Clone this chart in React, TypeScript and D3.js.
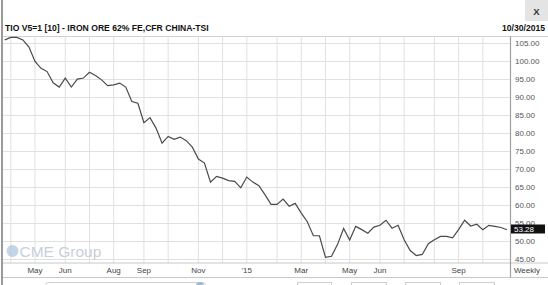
import React from "react";
import * as d3 from "d3";

const title = "TIO V5=1 [10] - IRON ORE 62% FE,CFR CHINA-TSI";
const dateLabel = "10/30/2015";
const periodLabel = "Weekly";
const lastLabel = "53.28";

const startDate = new Date(2014, 2, 28);
const endDate = new Date(2015, 9, 30);

const prices = [
  106.0, 106.7, 106.7, 106.0, 104.0, 100.0, 98.1, 97.2, 94.1, 92.9,
  95.4, 92.9, 95.1, 95.4, 97.0, 96.1, 94.9, 93.3, 93.5, 94.0,
  92.9, 88.9, 88.4, 83.0, 84.4, 81.5, 77.3, 79.2, 78.4, 79.0,
  78.0, 76.2, 72.9, 71.8, 66.5, 68.1, 67.6, 66.9, 66.7, 64.9,
  67.9, 66.5, 65.5, 63.0, 60.3, 60.3, 61.8, 59.8, 60.6, 57.9,
  55.5, 51.6, 51.6, 45.6, 45.9, 49.2, 53.6, 50.4, 54.2, 53.3,
  52.3, 54.0, 54.5, 55.9, 53.7, 54.5, 50.5, 47.5, 46.1, 46.4,
  49.4, 50.5, 51.4, 51.4, 51.0, 53.3, 55.9, 54.3, 54.8, 53.3,
  54.5, 54.2, 53.9, 53.28,
];

const yTicks = [45, 50, 55, 60, 65, 70, 75, 80, 85, 90, 95, 100, 105];
const tickMonths = ["2014-05", "2014-06", "2014-08", "2014-09", "2014-11", "2015-01", "2015-03", "2015-05", "2015-06", "2015-09"];
const tickLabels = ["May", "Jun", "Aug", "Sep", "Nov", "'15", "Mar", "May", "Jun", "Sep"];

const W = 548;
const H = 285;
const FONT = "Arial, 'Liberation Sans', sans-serif";

export default function App() {
  const dates = d3.timeFriday.range(startDate, d3.timeDay.offset(endDate, 1));
  const data = dates.map((d, i) => ({ date: d, value: prices[i] }));

  const x = d3.scaleTime().domain([startDate, endDate]).range([4.75, 507]);
  const y = d3.scaleLinear().domain([45, 105]).range([259.5, 43.5]);

  const monthKey = d3.timeFormat("%Y-%m");
  const gridDates = dates.filter((d, i) => i === 0 ? d.getDate() <= 7 : d.getMonth() !== dates[i - 1].getMonth());

  const line = d3
    .line<{ date: Date; value: number }>()
    .x((d) => x(d.date))
    .y((d) => y(d.value));

  const plotTop = 36.5;
  const plotBottom = 263;
  const axisX = 510.5;

  return (
    <svg
      width={W}
      height={H}
      style={{ position: "absolute", left: 0, top: 0, background: "#fff", fontFamily: FONT }}
    >
      {/* left border */}
      <rect x={1} y={0} width={2} height={H} fill="#9a9a9a" />

      {/* close button */}
      <rect x={525} y={0} width={23} height={21} fill="#e4e4e4" />
      <text x={536.5} y={14.5} textAnchor="middle" fontSize={9.5} fontWeight="bold" fill="#333">X</text>

      {/* title */}
      <text x={5} y={31} fontSize={8.6} fontWeight="bold" fill="#111">{title}</text>
      <text x={545} y={31} fontSize={8.6} fontWeight="bold" fill="#111" textAnchor="end">{dateLabel}</text>

      {/* frame top */}
      <line x1={3} x2={W} y1={plotTop} y2={plotTop} stroke="#d0d0d0" />

      {/* horizontal grid */}
      {yTicks.map((t) => (
        <line key={"h" + t} x1={3} x2={axisX} y1={y(t)} y2={y(t)} stroke="#e0e0e0" strokeWidth={1} />
      ))}
      {/* vertical grid */}
      {gridDates.map((d) => (
        <line key={"v" + d.getTime()} x1={x(d)} x2={x(d)} y1={plotTop} y2={plotBottom} stroke="#e0e0e0" strokeWidth={1} />
      ))}

      {/* watermark */}
      <circle cx={12.5} cy={251} r={6} fill="#a9c3dc" opacity={0.7} />
      <text x={19.5} y={256.5} fontSize={15.5} fill="#c6d0da">CME Group</text>

      {/* price line */}
      <path d={line(data) || ""} fill="none" stroke="#4a4a4a" strokeWidth={1.2} />

      {/* bottom lines */}
      <line x1={3} x2={W} y1={plotBottom} y2={plotBottom} stroke="#c8c8c8" />
      <line x1={3} x2={W} y1={277.5} y2={277.5} stroke="#c8c8c8" />

      {/* right axis */}
      <line x1={axisX} x2={axisX} y1={plotTop} y2={277.5} stroke="#a0a0a0" strokeWidth={1.2} />
      {yTicks.map((t) => (
        <text key={"yl" + t} x={515} y={y(t)} dy="0.35em" fontSize={8} fill="#555">
          {d3.format(".2f")(t)}
        </text>
      ))}

      {/* last value */}
      <rect x={511} y={224.5} width={34} height={9} fill="#111" />
      <text x={514} y={229} dy="0.35em" fontSize={8} fill="#fff">{lastLabel}</text>

      {/* x labels */}
      {gridDates.map((d) => {
        const k = tickMonths.indexOf(monthKey(d));
        if (k < 0) return null;
        return (
          <text key={"xl" + d.getTime()} x={x(d)} y={273} textAnchor="middle" fontSize={8} fill="#444">
            {tickLabels[k]}
          </text>
        );
      })}
      <text x={527} y={273} textAnchor="middle" fontSize={8} fill="#444">{periodLabel}</text>

      {/* bottom controls (partially visible) */}
      <rect x={45.5} y={282.5} width={160} height={10} rx={3} fill="none" stroke="#d0d0d0" />
      <circle cx={200} cy={286} r={4} fill="#9fb8d0" />
      <rect x={297.5} y={282.5} width={34} height={10} fill="none" stroke="#d0d0d0" />
      <rect x={351.5} y={282.5} width={35} height={10} fill="none" stroke="#d0d0d0" />
      <rect x={405.5} y={282.5} width={35} height={10} fill="none" stroke="#d0d0d0" />
      <rect x={459.5} y={282.5} width={35} height={10} fill="none" stroke="#d0d0d0" />
    </svg>
  );
}
